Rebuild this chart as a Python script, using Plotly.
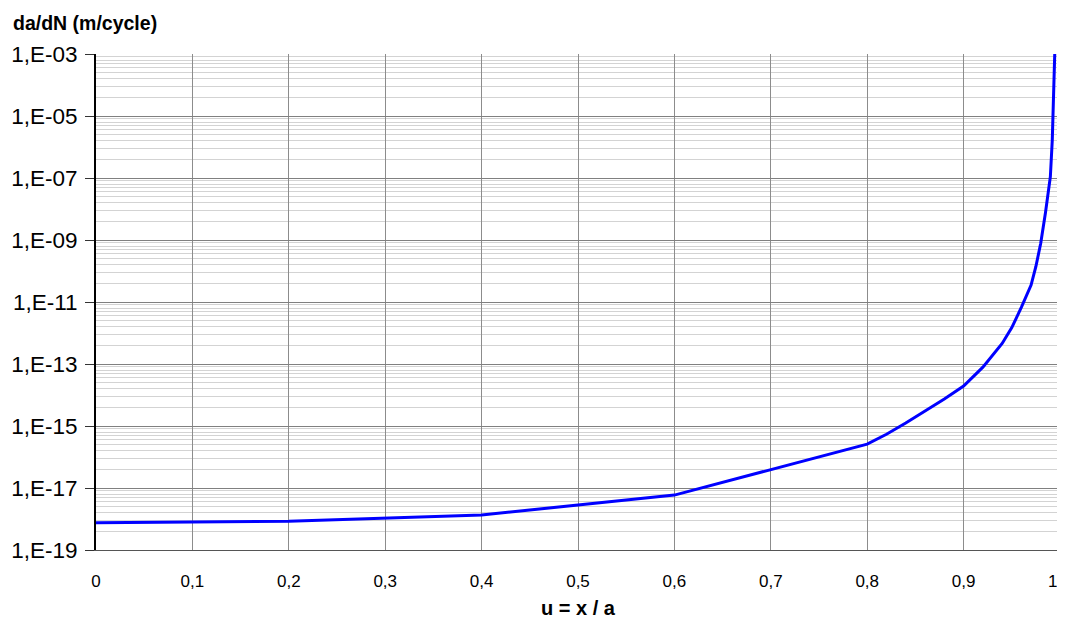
import plotly.graph_objects as go

# Data
u_values = [0.0, 0.2, 0.4, 0.6, 0.8, 0.82, 0.84, 0.86, 0.88, 0.90, 0.92, 0.94,
            0.95, 0.96, 0.97, 0.975, 0.98, 0.985, 0.99, 0.992, 0.994, 0.995]
dadn_values = [7.6e-19, 8.5e-19, 1.35e-18, 5.9e-18, 2.6e-16, 5.4e-16, 1.25e-15,
               3.0e-15, 7.4e-15, 1.95e-14, 7.9e-14, 4.6e-13, 1.5e-12, 6.8e-12,
               3.5e-11, 1.4e-10, 7.8e-10, 7.9e-9, 1.1e-7, 1.7e-6, 7.9e-5, 3.2e-3]

x_tickvals = [0, 0.1, 0.2, 0.3, 0.4, 0.5, 0.6, 0.7, 0.8, 0.9, 1.0]
x_ticktext = ["0", "0,1", "0,2", "0,3", "0,4", "0,5", "0,6", "0,7", "0,8", "0,9", "1"]
y_exponents = [-19, -17, -15, -13, -11, -9, -7, -5, -3]
y_tickvals = [10.0 ** e for e in y_exponents]
y_ticktext = ["1,E-19", "1,E-17", "1,E-15", "1,E-13", "1,E-11", "1,E-09",
              "1,E-07", "1,E-05", "1,E-03"]

x_title = "u = x / a"
y_title = "da/dN (m/cycle)"

# minor gridline positions within each two-decade band
minor_vals = []
for e in y_exponents[:-1]:
    for k in range(2, 10):
        minor_vals.append((10.0 ** e) * k * k)

FONT = "Arial, Liberation Sans, sans-serif"

fig = go.Figure()
fig.add_trace(go.Scatter(
    x=u_values, y=dadn_values, mode="lines",
    line=dict(color="#0000FF", width=3),
    showlegend=False, hoverinfo="skip",
))

# The page body has an 8px margin, so the figure is sized/offset to compensate
fig.update_layout(
    width=1057, height=615,
    margin=dict(l=88, r=5, t=46, b=73, autoexpand=False),
    paper_bgcolor="white", plot_bgcolor="white",
    font=dict(family=FONT, color="black"),
    showlegend=False,
)

# last tick label (at the right edge) is drawn as an annotation so it stays visible
axis_ticktext = x_ticktext[:-1] + [""]

fig.update_xaxes(
    range=[0, 1], automargin=False,
    tickmode="array", tickvals=x_tickvals, ticktext=axis_ticktext,
    tickfont=dict(size=17, family=FONT, color="black"),
    showgrid=True, gridcolor="#8c8c8c", gridwidth=1,
    showline=True, linecolor="#555555", linewidth=1,
    ticks="", zeroline=False,
    ticklabelstandoff=16,
)

fig.add_annotation(
    text=x_ticktext[-1], xref="x", yref="paper",
    x=x_tickvals[-1], y=-0.0625, xanchor="right", yanchor="middle", xshift=-1,
    showarrow=False, font=dict(size=17, family=FONT, color="black"),
)

fig.update_yaxes(
    type="log", range=[-19, -3], automargin=False,
    tickmode="array", tickvals=y_tickvals, ticktext=y_ticktext,
    tickfont=dict(size=22.5, family=FONT, color="black"),
    showgrid=True, gridcolor="#808080", gridwidth=1,
    showline=True, linecolor="black", linewidth=2,
    ticks="outside", ticklen=9, tickcolor="#333333", tickwidth=1,
    ticklabelstandoff=3,
    zeroline=False,
    minor=dict(tickmode="array", tickvals=minor_vals, showgrid=True,
               gridcolor="#d3d3d3", gridwidth=1, ticks=""),
)

fig.add_annotation(
    text="<b>" + y_title + "</b>", xref="paper", yref="paper",
    x=-0.088, y=1.063, xanchor="left", yanchor="middle", showarrow=False,
    font=dict(size=19.5, family=FONT, color="black"),
)
fig.add_annotation(
    text="<b>" + x_title + "</b>", xref="paper", yref="paper",
    x=0.5, y=-0.116, xanchor="center", yanchor="middle", showarrow=False,
    font=dict(size=20, family=FONT, color="black"),
)

fig.write_html("out.html")
